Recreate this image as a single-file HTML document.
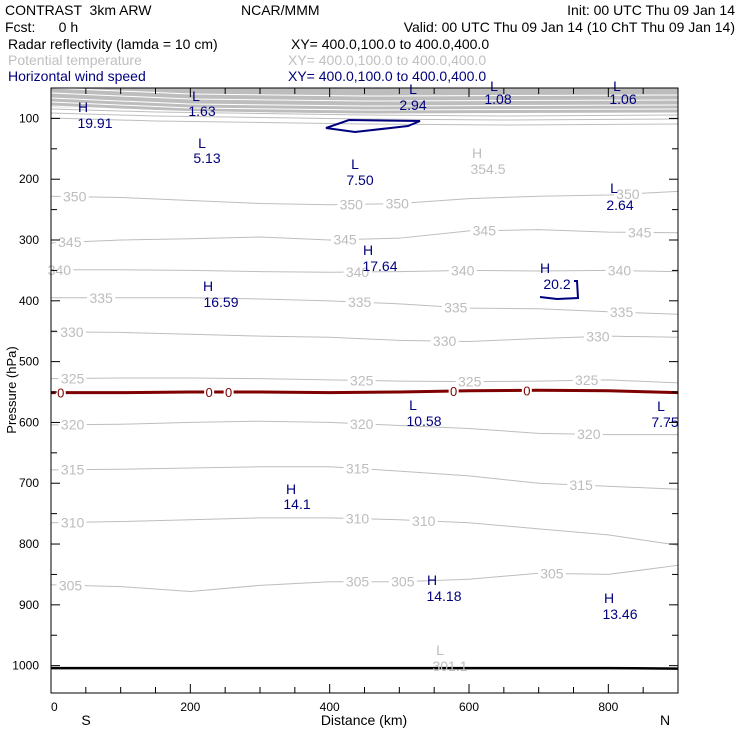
<!DOCTYPE html>
<html><head><meta charset="utf-8"><style>
html,body{margin:0;padding:0;background:#fff;}
svg{display:block;font-family:"Liberation Sans",sans-serif;}
svg text{white-space:pre;}
</style></head><body>
<svg id="chart" width="740" height="740" viewBox="0 0 740 740">
<g font-size="14" fill="#000">
<text x="5" y="15">CONTRAST  3km ARW</text>
<text x="241" y="15">NCAR/MMM</text>
<text x="735" y="15" text-anchor="end">Init: 00 UTC Thu 09 Jan 14</text>
<text x="5" y="32">Fcst:      0 h</text>
<text x="735" y="32" text-anchor="end">Valid: 00 UTC Thu 09 Jan 14 (10 ChT Thu 09 Jan 14)</text>
<text x="8" y="49">Radar reflectivity (lamda = 10 cm)</text>
<text x="291" y="49">XY= 400.0,100.0 to 400.0,400.0</text>
<text x="8" y="65" fill="#c0c0c0">Potential temperature</text>
<text x="288" y="65" fill="#c0c0c0">XY= 400.0,100.0 to 400.0,400.0</text>
<text x="8" y="81" fill="#00007f">Horizontal wind speed</text>
<text x="288" y="81" fill="#00007f">XY= 400.0,100.0 to 400.0,400.0</text>
</g>
<g id="plot"></g>
</svg>
<script>
const distKm=[0,100,200,300,400,500,600,700,800,900];
const thetaLevels=[350,345,340,335,330,325,320,315,310,305];
const thetaP=[
[228,230,235,240,242,240,232,228,226,220],
[305,300,298,295,300,297,285,283,287,288],
[349,349,350,352,353,352,350,351,350,352],
[395,395,395,397,400,405,412,413,418,422],
[451,452,455,458,460,465,467,462,458,460],
[528,527,527,528,530,532,533,532,530,535],
[604,603,600,598,600,605,610,618,620,620],
[678,677,675,673,673,680,688,700,705,710],
[765,763,760,757,757,760,765,775,785,802],
[867,870,878,868,862,862,858,848,850,835]];
const thetaLabelKm=[[34,431,497,828],[27,422,622,845],[12,440,591,816],[72,443,581,819],[30,565,785],[31,446,601,769],[31,446,772],[31,440,761],[31,440,535],[28,440,505,719]];
const zeroP=[551,551,550,550,551,550,548,547,548,551];
const zeroLabelKm=[14,227,255,578,683];
const groundP=[1004,1004,1004,1004,1004,1004,1004,1004,1004,1005];
const xTicks=[0,200,400,600,800];
const yTicks=[100,200,300,400,500,600,700,800,900,1000];
const windLabels=[["H","19.91",83,112,95,128],["L","1.63",196,101,202,116],["L","2.94",413,94,413,110],["L","1.08",494,91,498,104],["L","1.06",617,91,623,104],["L","5.13",202,148,207,163],["L","7.50",355,169,360,185],["H","17.64",368,255,380,271],["H","16.59",208,291,221,307],["H","20.2",545,273,557,289],["L","2.64",614,193,620,210],["L","10.58",413,410,424,426],["L","7.75",661,411,665,427],["H","14.1",291,494,297,509],["H","14.18",432,585,444,601],["H","13.46",609,603,620,619]];
const L=51,R=678,T=88,B=693,P0=50,P1=1045;
const X=k=>L+(R-L)*k/900;
const Y=p=>T+(B-T)*(p-P0)/(P1-P0);
const NS="http://www.w3.org/2000/svg";
const g=document.getElementById('plot');
function mk(t,a,parent){const e=document.createElementNS(NS,t);for(const k in a)e.setAttribute(k,a[k]);(parent||g).appendChild(e);return e;}
function interp(arr,k){const i=Math.min(8,Math.floor(k/100));const f=(k-i*100)/100;return arr[i]+(arr[i+1]-arr[i])*f;}
function pts(arr){return distKm.map((k,i)=>X(k)+','+Y(arr[i])).join(' ');}
let band=mk('path',{d:`M${L},${T} L${R},${T} L${R},${T+25} L${X(450)},${T+26} L${X(200)},${T+23} L${L},${T+19} Z`,fill:'#bdbdbd'});


[3,8,13,17,21].forEach(o=>{const ln=mk('polyline',{points:`${L},${T+o-3} ${X(200)},${T+o+3} ${X(450)},${T+o+5} ${R},${T+o+4}`,fill:'none',stroke:'#fff','stroke-width':1});

});
[27,31,36].forEach(o=>{const ln=mk('polyline',{points:`${L},${T+o-6} ${X(150)},${T+o-3} ${X(450)},${T+o} ${X(650)},${T+o+1} ${R},${T+o}`,fill:'none',stroke:'#bdbdbd','stroke-width':1});

});
thetaLevels.forEach((lv,j)=>{
 const ln=mk('polyline',{points:pts(thetaP[j]),fill:'none',stroke:'#bdbdbd','stroke-width':1});
 
 
 thetaLabelKm[j].forEach(k=>{
  const x=X(k),y=Y(interp(thetaP[j],k));
  const bg=mk('rect',{x:x-14,y:y-6,width:28,height:12,fill:'#fff'});
  
  
  const t=mk('text',{x:x,y:y+5,'text-anchor':'middle','font-size':14,fill:'#bdbdbd'});
  t.textContent=lv;
  
  
 });
});
const zl=mk('polyline',{points:pts(zeroP),fill:'none',stroke:'#7f0000','stroke-width':3});


zeroLabelKm.forEach(k=>{const x=X(k),y=Y(interp(zeroP,k));
 const bg=mk('rect',{x:x-5,y:y-5,width:10,height:10,fill:'#fff'});
 
 
 const t=mk('text',{x:x,y:y+5,'text-anchor':'middle','font-size':13,fill:'#7f0000'});t.textContent='0';
 
 });
const gl=mk('polyline',{points:pts(groundP),fill:'none',stroke:'#000','stroke-width':2.5});


const w1=mk('path',{d:'M326,128 L349,120 L420,121 L408,126 L355,132 Z',fill:'none',stroke:'#00007f','stroke-width':2});


const w2=mk('path',{d:'M574,281 L577,281 L578,298 L557,299 L540,297',fill:'none',stroke:'#00007f','stroke-width':2});


windLabels.forEach(w=>{
 const a=mk('text',{x:w[2],y:w[3],'text-anchor':'middle','font-size':14,fill:'#00007f'});a.textContent=w[0];
 
 
 const b=mk('text',{x:w[4],y:w[5],'text-anchor':'middle','font-size':14,fill:'#00007f'});b.textContent=w[1];
 
 
});
[["H","354.5",477,158,488,174],["L","301.1",440,655,450,671]].forEach(w=>{
 const a=mk('text',{x:w[2],y:w[3],'text-anchor':'middle','font-size':14,fill:'#bdbdbd'});a.textContent=w[0];
 
 
 const b=mk('text',{x:w[4],y:w[5],'text-anchor':'middle','font-size':14,fill:'#bdbdbd'});b.textContent=w[1];
 
 
});
const fr=mk('rect',{x:L,y:T,width:R-L,height:B-T,fill:'none',stroke:'#000','stroke-width':1});


for(let k=0;k<=900;k+=50){const len=k%200===0?9:6;
 const t1=mk('line',{x1:X(k),y1:T,x2:X(k),y2:T+len,stroke:'#000'});
 
 
 const t2=mk('line',{x1:X(k),y1:B,x2:X(k),y2:B-len,stroke:'#000'});
 
 }
for(let p=100;p<=1000;p+=50){const len=p%100===0?9:6;
 const t1=mk('line',{x1:L,y1:Y(p),x2:L+len,y2:Y(p),stroke:'#000'});
 
 
 const t2=mk('line',{x1:R,y1:Y(p),x2:R-len,y2:Y(p),stroke:'#000'});
 
 }
xTicks.forEach(k=>{const t=mk('text',{x:X(k),y:B+18,'text-anchor':k===0?'start':'middle','font-size':12});t.textContent=k;
 
 });
yTicks.forEach(p=>{const t=mk('text',{x:L-12,y:Y(p)+4,'text-anchor':'end','font-size':12});t.textContent=p;
 
 });
const xt=mk('text',{x:364,y:725,'text-anchor':'middle','font-size':14});xt.textContent='Distance (km)';


const s=mk('text',{x:86,y:725,'text-anchor':'middle','font-size':14});s.textContent='S';


const n=mk('text',{x:665,y:725,'text-anchor':'middle','font-size':14});n.textContent='N';


const yt=mk('text',{x:16,y:390,'text-anchor':'middle','font-size':13,transform:'rotate(-90 16 390)'});yt.textContent='Pressure (hPa)';


</script>
</body></html>
